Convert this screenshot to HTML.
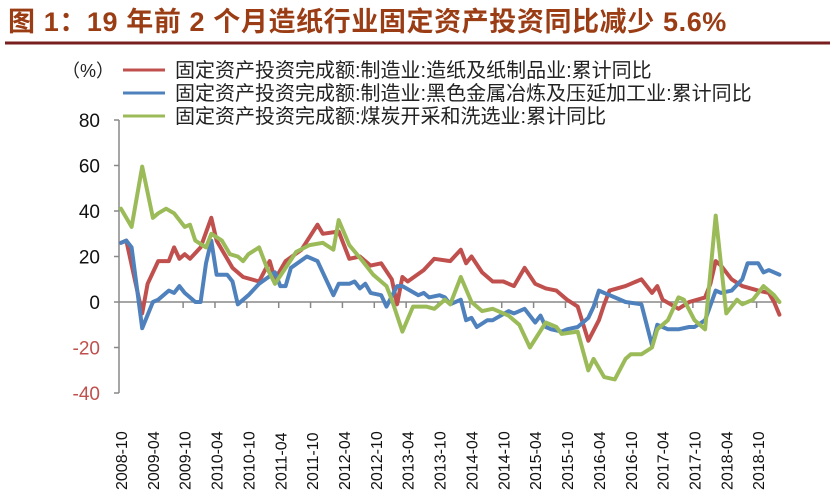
<!DOCTYPE html>
<html><head><meta charset="utf-8"><style>
body{margin:0;background:#fff;width:836px;height:497px;overflow:hidden;font-family:"Liberation Sans","Noto Sans CJK SC",sans-serif}
</style></head><body>
<svg width="836" height="497" xmlns="http://www.w3.org/2000/svg">
<text x="8" y="31" font-size="27" font-weight="bold" fill="#9a3d15" letter-spacing="0.6" font-family="Liberation Sans,Noto Sans CJK SC,sans-serif">图 1：19 年前 2 个月造纸行业固定资产投资同比减少 5.6%</text>
<line x1="5" y1="43" x2="830" y2="43" stroke="#7a1f1f" stroke-width="3"/>
<g id="legend" font-size="20" fill="#222">
<text x="62" y="77" font-size="18">（%）</text>
<line x1="123" y1="70" x2="165" y2="70" stroke="#c0504d" stroke-width="3"/>
<text x="175" y="77">固定资产投资完成额:制造业:造纸及纸制品业:累计同比</text>
<line x1="123" y1="93" x2="165" y2="93" stroke="#4f81bd" stroke-width="3"/>
<text x="175" y="100">固定资产投资完成额:制造业:黑色金属冶炼及压延加工业:累计同比</text>
<line x1="123" y1="116" x2="165" y2="116" stroke="#9bbb59" stroke-width="3"/>
<text x="175" y="123">固定资产投资完成额:煤炭开采和洗选业:累计同比</text>
</g>
<g id="axes"></g>
<g id="series"></g>
</svg>
<script>
const yTicks=[80,60,40,20,0,-20,-40];
const xLabels=["2008-10","2009-04","2009-10","2010-04","2010-10","2011-04","2011-10","2012-04","2012-10","2013-04","2013-10","2014-04","2014-10","2015-04","2015-10","2016-04","2016-10","2017-04","2017-10","2018-04","2018-10"];
const paperMonths=[0,1,4,5,7,9,10,11,12,13,15,17,18,20,21,23,26,28,29,31,34,37,38,41,43,45,47,49,51,52,53,54,57,59,62,64,65,66,68,70,72,74,76,78,80,82,84,86,88,90,91,92,95,96,98,100,101,102,105,107,110,111,112,113,115,117,120,122,123,124];
const paperValues=[26,27,-5,8,18,18,24,19,21,19,24,37,27,19,15,11,9,18,10,18,23,34,30,31,19,20,16,17,10,-1,11,9,14,19,18,23,17,20,13,9,9,7,15,8,6,5,1,-2,-17,-8,-1,5,7,8,10,4,7,1,-3,0,2,8,18,16,10,7,5,4,0,-5.6];
const steelMonths=[0,1,2,4,6,7,9,10,11,12,13,14,15,16,17,18,20,21,22,24,26,29,30,31,32,35,37,40,41,43,44,45,46,47,49,50,52,53,56,57,58,60,61,62,64,65,66,67,69,70,73,74,76,78,79,80,81,83,84,86,88,89,90,91,93,95,98,100,101,102,103,105,107,108,110,112,113,115,117,118,120,121,122,124];
const steelValues=[26,27,24,-11.5,0,1,5,4,7,4,2,0,0,17,27,12,12,9,-1,3,8,13,7,7,15,20,18,3,8,8,9,6,8,4,3,-2,7,7,3,4,2,3,2,-1,1,-8,-7,-11,-8,-8,-4,-5,-3,-9,-6,-11,-12,-13,-12,-11,-7,-2,5,4,2,0,-1,-19,-10,-11,-12,-12,-11,-11,-8,5,4,5,10,17,17,13,14,12];
const coalMonths=[0,1.5,2,4,6,7,8.5,10,12,13,14,16,17,19,20.5,22,23,24,26,27.5,29,31,33,35.5,38,40,41,43,45.5,47.5,50,51,53,55,57.5,59,61,62,64,66,68,70,73,75,77,80,82,83,86,88,89,91,93,95,96,98,100,101,103,105,106,108,110,112,114,116,117,119,121,123,124];
const coalValues=[41,35,33,59.5,37,39,41,39,33,34,27,24,30,27,21,20,18,21,24,15,8,15,22,25,26,23,36,25,18,12,7,1,-13,-2,-2,-3,1,-1,11,0,-4,-3,-6,-10,-20,-9,-11,-14,-13,-30,-25,-33,-34,-25,-23,-23,-20,-12,-8,2,1,-8,-12,38,-5,1,-1,1,7,3,0];
const NS="http://www.w3.org/2000/svg";
const x0=121,pxPerMonth=5.31,yZero=302,pxPerUnit=2.275;
function xScale(m){return x0+m*pxPerMonth;}
function yScale(v){return yZero-v*pxPerUnit;}
const axes=document.getElementById('axes');
function mk(tag,attrs,parent){const e=document.createElementNS(NS,tag);for(const k in attrs)e.setAttribute(k,attrs[k]);parent.appendChild(e);return e;}
const yAxis=mk('line',{x1:119,y1:yScale(80),x2:119,y2:yScale(-40),stroke:'#888','stroke-width':1.5},axes);


yTicks.forEach(v=>{
 mk('line',{x1:114,y1:yScale(v),x2:119,y2:yScale(v),stroke:'#888','stroke-width':1.5},axes);
 const t=mk('text',{x:100,y:yScale(v)+7,'text-anchor':'end','font-size':19,fill:v<0?'#c0504d':'#111'},axes);
 t.textContent=v;
 
 
});
const xAxis=mk('line',{x1:119,y1:yZero,x2:xScale(124),y2:yZero,stroke:'#888','stroke-width':1.5},axes);


xLabels.forEach((lab,i)=>{
 const m=i*6;
 if(i>=2) mk('line',{x1:xScale(m-0.3),y1:yZero,x2:xScale(m-0.3),y2:yZero+6,stroke:'#888','stroke-width':1.5},axes);
 const cx=xScale(m)+6;
 const t=mk('text',{x:cx,y:490,transform:`rotate(-90 ${cx} 490)`,'font-size':16,fill:'#111'},axes);
 t.textContent=lab;
 
 
});
const series=document.getElementById('series');
function drawLine(ms,vs,color,name){
 const d=ms.map((m,i)=>(i?'L':'M')+xScale(m).toFixed(1)+','+yScale(vs[i]).toFixed(1)).join(' ');
 const p=mk('path',{d:d,fill:'none',stroke:color,'stroke-width':4,'stroke-linejoin':'round','stroke-linecap':'round'},series);
 
 
}
drawLine(paperMonths,paperValues,'#c0504d','paper-series-line');
drawLine(steelMonths,steelValues,'#4f81bd','steel-series-line');
drawLine(coalMonths,coalValues,'#9bbb59','coal-series-line');
</script>
</body></html>
